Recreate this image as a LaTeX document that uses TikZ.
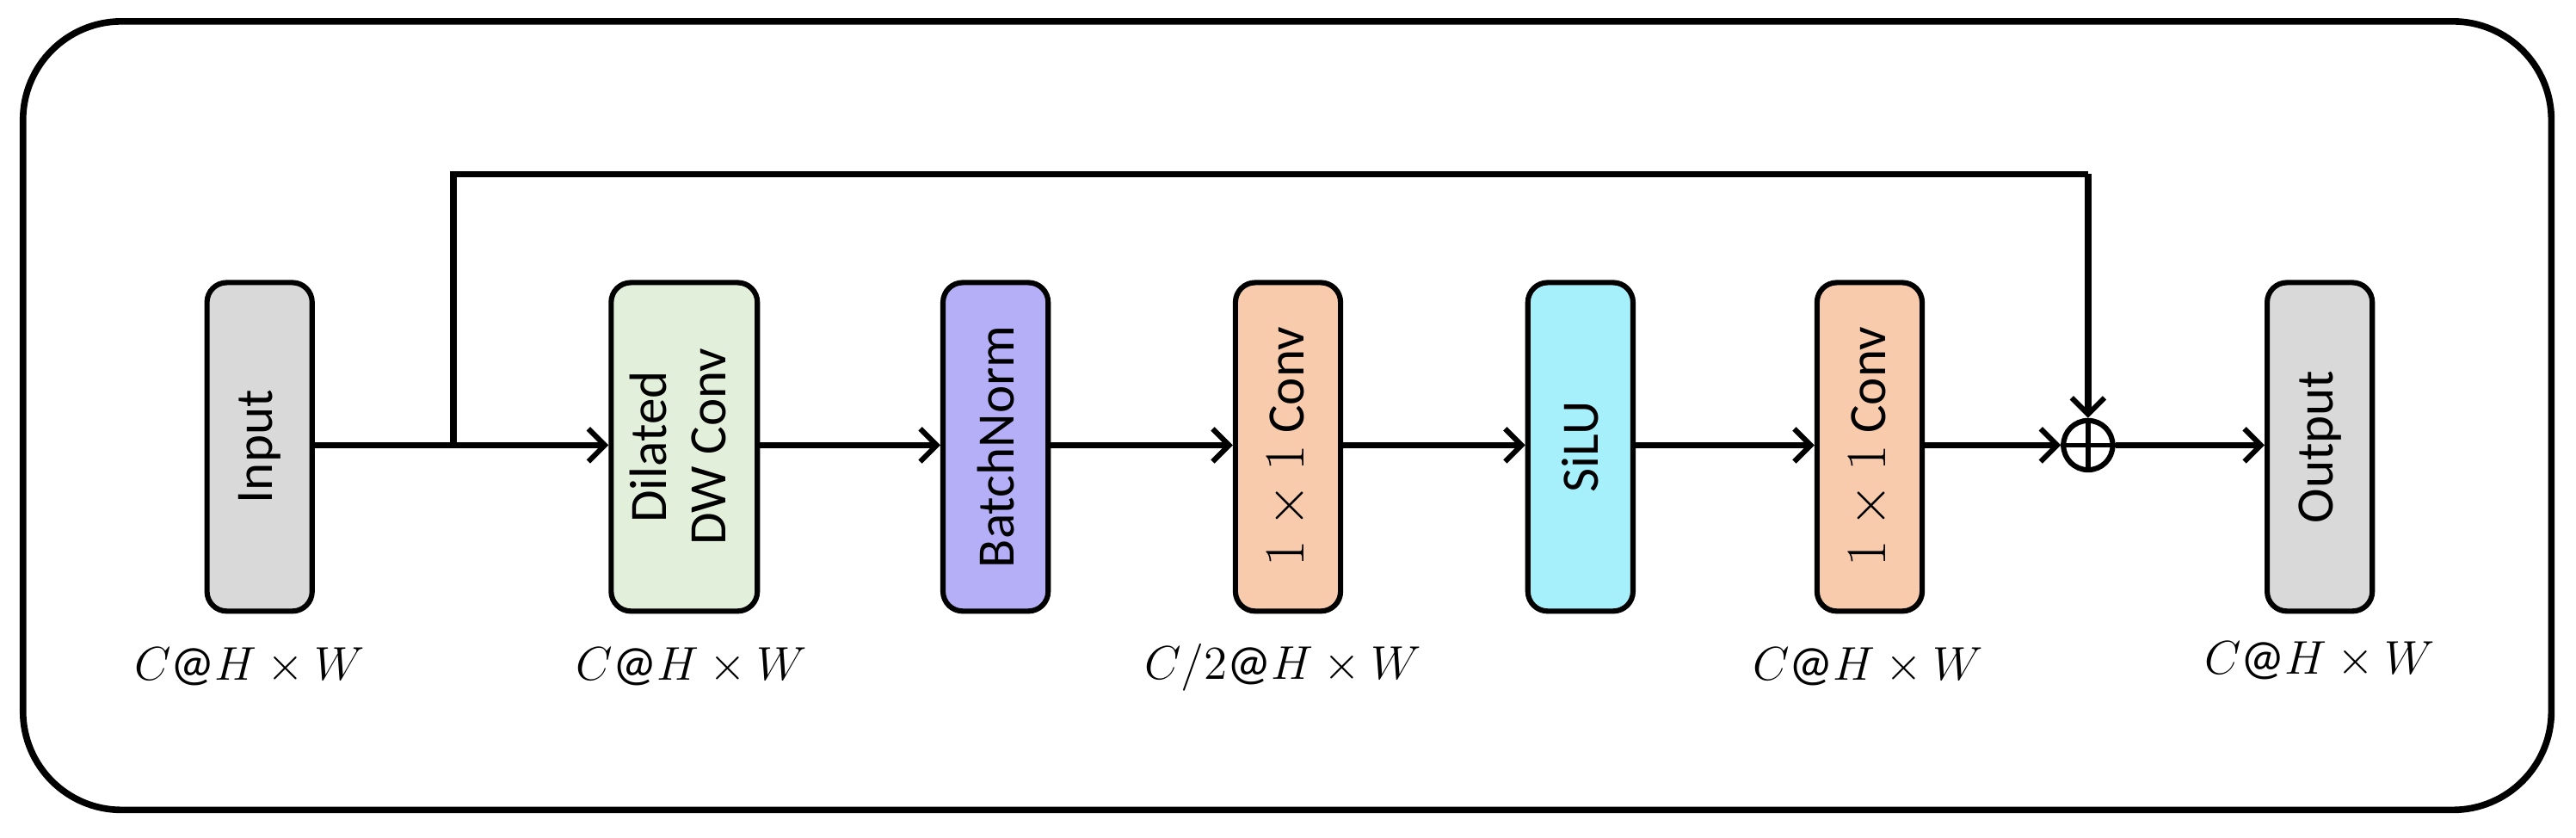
\documentclass[tikz,border=0pt]{standalone}
\usepackage{fontspec}
\setmainfont{Carlito}
\usetikzlibrary{arrows.meta}
\begin{document}
\begin{tikzpicture}[x=0.5pt,y=-0.5pt,
  blk/.style={draw,line width=1.6pt,rounded corners=6pt,minimum height=100pt,inner sep=0pt,
    font=\fontsize{16}{18}\selectfont,align=center},
  lbl/.style={font=\fontsize{15}{17}\selectfont},
  arr/.style={line width=2pt,->,>={Straight Barb[length=5pt,width=10pt,line width=1.6pt]}}]
\useasboundingbox (0,0) rectangle (1568,510);
\draw[line width=2pt,rounded corners=30pt] (14,13) rectangle (1553,493);
\definecolor{cgray}{HTML}{D9D9D9}
\definecolor{cgreen}{HTML}{E2EFDA}
\definecolor{cpurp}{HTML}{B4AFF7}
\definecolor{corange}{HTML}{F8CBAD}
\definecolor{ccyan}{HTML}{A6F0FC}
\node[blk,fill=cgray,minimum width=32pt] (in) at (158,272) {\rotatebox{90}{Input}};
\node[blk,fill=cgreen,minimum width=44.5pt] (dw) at (416.5,272) {\rotatebox{90}{\begin{tabular}{c}Dilated\\DW Conv\end{tabular}}};
\node[blk,fill=cpurp,minimum width=32pt] (bn) at (606,272) {\rotatebox{90}{BatchNorm}};
\node[blk,fill=corange,minimum width=32pt] (c1) at (784,272) {\rotatebox{90}{$1\times1$ Conv}};
\node[blk,fill=ccyan,minimum width=32pt] (si) at (962,272) {\rotatebox{90}{SiLU}};
\node[blk,fill=corange,minimum width=32pt] (c2) at (1138,272) {\rotatebox{90}{$1\times1$ Conv}};
\node[blk,fill=cgray,minimum width=32pt] (out) at (1412,272) {\rotatebox{90}{Output}};
\node[circle,draw,line width=1.6pt,minimum size=15pt,inner sep=0pt] (sum) at (1271,271) {};
\draw[line width=1.4pt] (sum.north)--(sum.south) (sum.west)--(sum.east);
\coordinate (sp) at (276,271);
\coordinate (t1) at (276,106);
\coordinate (t2) at (1271,106);
\draw[arr] (in.east|-sp) -- (dw.west|-sp);
\draw[line width=2pt] (sp)--(t1)--(t2);
\draw[arr] (t2)--(sum.north);
\draw[arr] (dw.east|-sp) -- (bn.west|-sp);
\draw[arr] (bn.east|-sp) -- (c1.west|-sp);
\draw[arr] (c1.east|-sp) -- (si.west|-sp);
\draw[arr] (si.east|-sp) -- (c2.west|-sp);
\draw[arr] (c2.east|-sp) -- (sum.west);
\draw[arr] (sum.east) -- (out.west|-sp);
\node[lbl] (l1) at (152,406) {$C@H\times W$};
\node[lbl] (l2) at (421,406) {$C@H\times W$};
\node[lbl] (l3) at (781,406) {$C/2@H\times W$};
\node[lbl] (l4) at (1137,406) {$C@H\times W$};
\node[lbl] (l5) at (1412,402) {$C@H\times W$};
\end{tikzpicture}
\end{document}
